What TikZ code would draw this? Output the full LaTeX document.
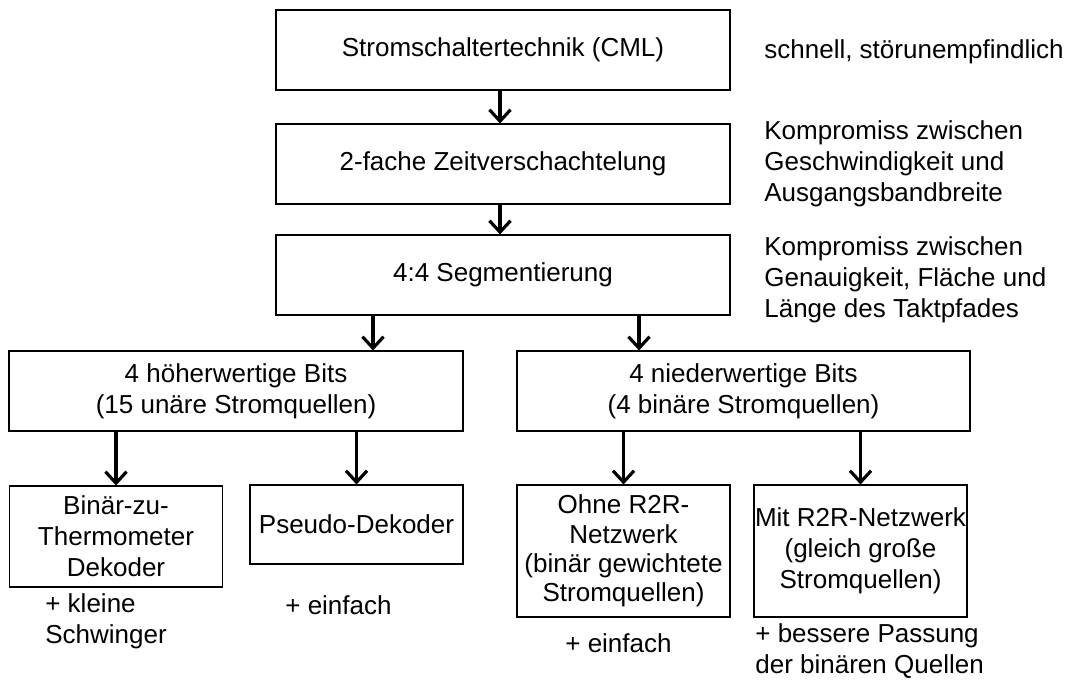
\documentclass[tikz,border=0pt]{standalone}
\usepackage{fontspec}
\setmainfont{Liberation Sans}
\usetikzlibrary{arrows.meta}

\tikzset{
  block/.style={draw, line width=0.6pt, minimum width=9.08cm, minimum height=1.6cm, inner sep=0pt, align=center},
  subblock/.style={block, minimum width=4.26cm},
  note/.style={anchor=west, align=left, inner sep=0pt},
  flow/.style={line width=1.8pt, -{Straight Barb[length=6.5pt,width=12pt]}}
}

\begin{document}
\begin{tikzpicture}[font=\fontsize{14.8}{17.6}\selectfont]
  \useasboundingbox (0,0) rectangle (21.46,-13.74);

  % main chain
  \node[block] (cml) at (10.06,-1.0) {Stromschaltertechnik (CML)};
  \node[block] (zeit) at (10.06,-3.28) {2-fache Zeitverschachtelung};
  \node[block] (seg) at (10.06,-5.5) {4:4 Segmentierung};

  \node[note] (cmlnote) at (15.28,-1.04) {schnell, störunempfindlich};
  \node[note] (zeitnote) at (15.28,-3.27) {Kompromiss zwischen\\Geschwindigkeit und\\Ausgangsbandbreite};
  \node[note] (segnote) at (15.28,-5.6) {Kompromiss zwischen\\Genauigkeit, Fläche und\\Länge des Taktpfades};

  % split into MSB / LSB part
  \node[block] (msb) at (4.72,-7.82) {4 höherwertige Bits\\(15 unäre Stromquellen)};
  \node[block, minimum width=9.06cm] (lsb) at (14.87,-7.82) {4 niederwertige Bits\\(4 binäre Stromquellen)};

  \node[subblock, minimum height=2.02cm] (thermo) at (2.32,-10.73) {Binär-zu-\\Thermometer\\Dekoder};
  \node[subblock, minimum height=1.58cm] (pseudo) at (7.13,-10.49) {Pseudo-Dekoder};
  \node[subblock, minimum height=2.64cm, font=\fontsize{14.8}{16.6}\selectfont] (ohne) at (12.47,-11.02) {Ohne R2R-\\Netzwerk\\(binär gewichtete\\Stromquellen)};
  \node[subblock, minimum height=2.64cm] (mit) at (17.21,-11.02) {Mit R2R-Netzwerk\\(gleich große\\Stromquellen)};

  \node[note] (thermonote) at (0.9,-12.42) {+ kleine\\Schwinger};
  \node[note] (pseudonote) at (5.7,-12.1) {+ einfach};
  \node[note] (ohnenote) at (11.3,-12.86) {+ einfach};
  \node[note] (mitnote) at (15.1,-13.02) {+ bessere Passung\\der binären Quellen};

  % arrows
  \draw[flow] ([xshift=-0.06cm]cml.south) -- ([xshift=-0.06cm]zeit.north);
  \draw[flow] ([xshift=-0.06cm]zeit.south) -- ([xshift=-0.06cm]seg.north);
  \draw[flow] ([xshift=-2.6cm]seg.south) -- ([xshift=-2.6cm]seg.south |- msb.north);
  \draw[flow] ([xshift=2.72cm]seg.south) -- ([xshift=2.72cm]seg.south |- lsb.north);
  \draw[flow] (msb.south -| thermo.north) -- (thermo.north);
  \draw[flow] (msb.south -| pseudo.north) -- (pseudo.north);
  \draw[flow] (lsb.south -| ohne.north) -- (ohne.north);
  \draw[flow] (lsb.south -| mit.north) -- (mit.north);
\end{tikzpicture}
\end{document}
